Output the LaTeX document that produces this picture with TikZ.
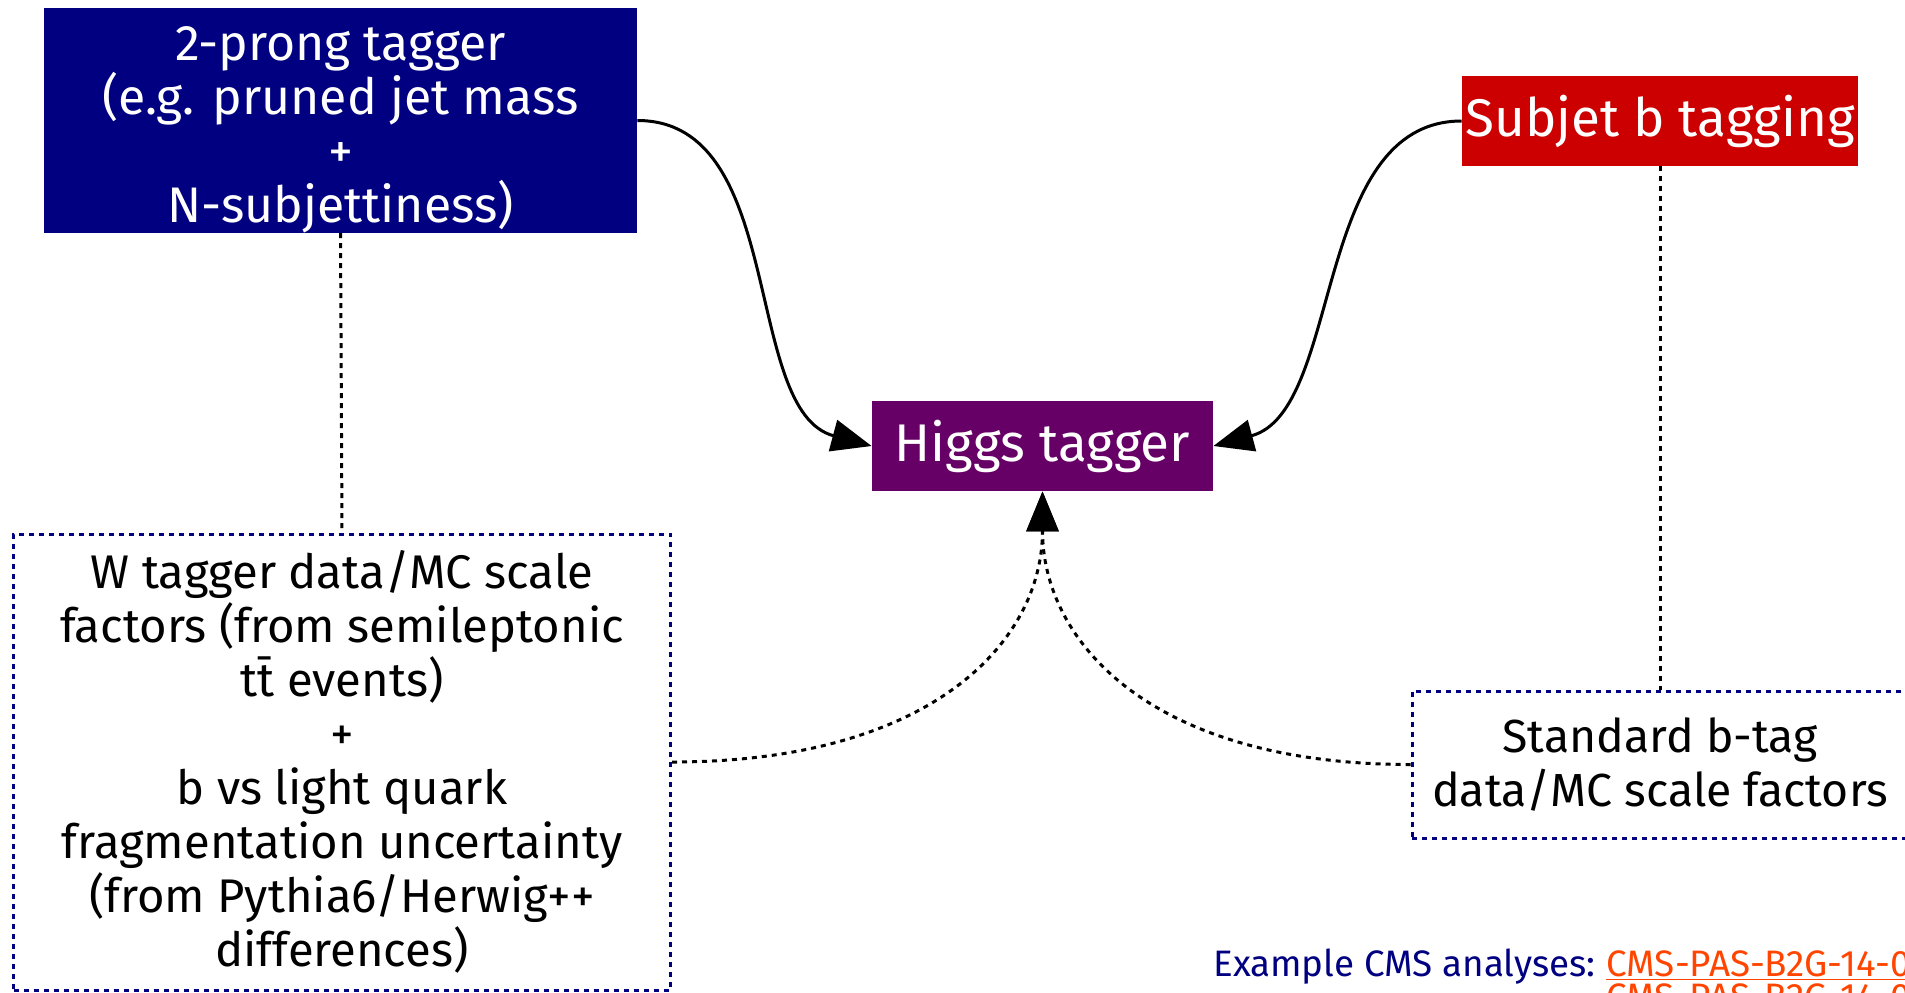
\documentclass[tikz,border=0pt]{standalone}
\usepackage{fontspec}
\setmainfont{Fira Sans}
\usetikzlibrary{positioning, arrows.meta}

\definecolor{boxnavy}{HTML}{000080}
\definecolor{boxred}{HTML}{CC0000}
\definecolor{boxpurple}{HTML}{660066}
\definecolor{linkorange}{HTML}{FF4500}

\begin{document}
\begin{tikzpicture}[
    x=0.5pt, y=-0.5pt,                           % 1 unit = 1 pixel, y downwards
    >={Triangle[length=20pt, width=16pt]},
    % filled tagger boxes
    tagger/.style={fill=#1, text=white, align=center, inner sep=0pt},
    % dashed boxes for the scale factors
    sfbox/.style={draw=boxnavy, line width=1.5pt, dash pattern=on 2.5pt off 2.5pt,
                  align=center, inner sep=0pt},
    solidlink/.style={line width=1.5pt},
    dashlink/.style={line width=1.5pt, dash pattern=on 2.5pt off 2.5pt},
    bodyfont/.style={font=\fontsize{23.6}{27}\selectfont},
    bigfont/.style={font=\fontsize{26.5}{30}\selectfont},
    notefont/.style={font=\fontsize{18.4}{22}\selectfont}
]
    \useasboundingbox (0,0) rectangle (1905,992);
    \clip (0,0) rectangle (1905,992);

    % --- taggers ---
    \node [tagger=boxnavy, font=\fontsize{25}{27}\selectfont,
           minimum width=296.5pt, minimum height=110.5pt]
        (twoprong) at (340.5,120.5)
        {\rule{0pt}{26pt}2-prong tagger\\ (e.g. pruned jet mass\\ +\\ N-subjettiness)};
    \node [tagger=boxred, bigfont, minimum width=198pt, minimum height=45pt]
        (subjet) at (1660,121) {Subjet b tagging};
    \node [tagger=boxpurple, bigfont, minimum width=170.5pt, minimum height=45pt]
        (higgs) at (1042.5,446) {Higgs tagger};

    % --- scale factors ---
    \node [sfbox, bodyfont, minimum width=328.5pt, minimum height=228pt]
        (wsf) at (342,762)
        {W tagger data/MC scale\\ factors (from semileptonic\\ t\={t} events)\\ +\\
         b vs light quark\\ fragmentation uncertainty\\ (from Pythia6/Herwig++\\ differences)};
    \node [sfbox, font=\fontsize{23.2}{27}\selectfont, minimum width=248pt, minimum height=73.5pt]
        (bsf) at (1660,764.5)
        {Standard b-tag\\ data/MC scale factors};

    % --- connectors ---
    \draw [solidlink, ->] (twoprong.east) .. controls +(150,0) and +(-130,-35) .. (higgs.west);
    \draw [solidlink, ->] (subjet.west) .. controls +(-150,0) and +(130,-35) .. (higgs.east);
    \draw [dashlink] (twoprong.south) -- (wsf.north);
    \draw [dashlink] (subjet.south) -- (bsf.north);
    \draw [dashlink, ->] (wsf.east) .. controls +(260,0) and +(0,150) .. (higgs.south);
    \draw [dashlink, ->] (bsf.west) .. controls +(-260,0) and +(0,150) .. (higgs.south);

    % --- footnote ---
    \node [anchor=base west, text=boxnavy, notefont, inner sep=0pt]
        (example) at (1213,976) {Example CMS analyses:};
    \node [anchor=base west, text=linkorange, notefont, inner sep=0pt]
        (linka) at (1606,976) {\underline{CMS-PAS-B2G-14-002}};
    \node [anchor=base west, text=linkorange, notefont, inner sep=0pt]
        (linkb) at (1606,1009) {\underline{CMS-PAS-B2G-14-004}};
\end{tikzpicture}
\end{document}
